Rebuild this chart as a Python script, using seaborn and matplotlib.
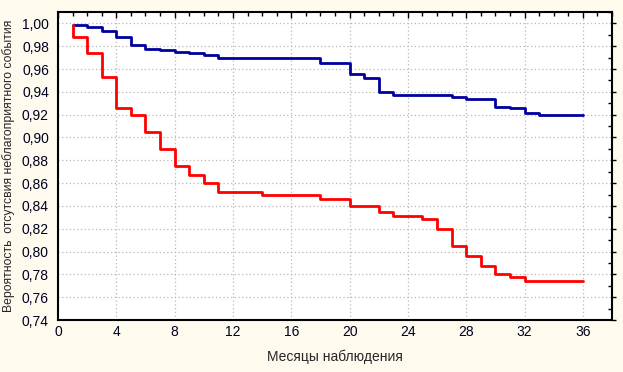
import matplotlib
matplotlib.use("Agg")
import matplotlib.pyplot as plt
from matplotlib.ticker import MultipleLocator, FuncFormatter
import seaborn as sns
import pandas as pd

# Kaplan-Meier type step curves
months_blue = [1, 2, 3, 4, 5, 6, 7, 8, 9, 10, 11, 17, 18, 20, 21, 22, 23,
               27, 28, 30, 31, 32, 33, 36]
surv_blue = [0.999, 0.997, 0.993, 0.988, 0.981, 0.978, 0.9765, 0.975, 0.9737,
             0.972, 0.970, 0.9695, 0.965, 0.956, 0.952, 0.940, 0.937, 0.9355,
             0.9335, 0.927, 0.9255, 0.9215, 0.9195, 0.9195]

months_red = [1, 1, 2, 3, 4, 5, 6, 7, 8, 9, 10, 11, 14, 18, 20, 22, 23, 25,
              26, 27, 28, 29, 30, 31, 32, 36]
surv_red = [0.999, 0.988, 0.9737, 0.953, 0.9255, 0.920, 0.905, 0.890, 0.875,
            0.8675, 0.8605, 0.852, 0.8495, 0.846, 0.840, 0.835, 0.831, 0.8285,
            0.820, 0.805, 0.796, 0.787, 0.7805, 0.778, 0.7745, 0.7745]

df = pd.concat([
    pd.DataFrame({"month": months_blue, "surv": surv_blue, "grp": "blue"}),
    pd.DataFrame({"month": months_red, "surv": surv_red, "grp": "red"}),
], ignore_index=True)

sns.set_style("white")
plt.rcParams["font.family"] = ["Liberation Sans", "DejaVu Sans"]

fig = plt.figure(figsize=(6.23, 3.72), dpi=100, facecolor="#fffaee")
ax = fig.add_axes([58 / 623, 52 / 372, 554 / 623, 308 / 372])
ax.set_facecolor("white")

sns.lineplot(data=df, x="month", y="surv", hue="grp",
             palette={"blue": "#0000a0", "red": "#ff0000"},
             estimator=None, sort=False, drawstyle="steps-post",
             linewidth=2, legend=False, ax=ax)

ax.set_xlim(0, 38)
ax.set_ylim(0.74, 1.01)
ax.set_xticks([0, 4, 8, 12, 16, 20, 24, 28, 32, 36])
ax.xaxis.set_minor_locator(MultipleLocator(1))
ax.yaxis.set_major_locator(MultipleLocator(0.02))
ax.yaxis.set_minor_locator(MultipleLocator(0.01))
ax.yaxis.set_major_formatter(FuncFormatter(lambda v, p: f"{v:.2f}".replace(".", ",")))

ax.grid(True, which="major", linestyle=(0, (1, 2)), color="#b8b8b8", linewidth=0.9)
ax.tick_params(which="both", direction="in", color="black", labelsize=10,
               top=True, right=True, labelcolor="#000020")
ax.tick_params(which="major", length=4, width=1)
ax.tick_params(which="minor", length=3, width=1)
ax.tick_params(axis="y", which="major", direction="out", length=3)
for s in ax.spines.values():
    s.set_color("black")
    s.set_linewidth(1.5)

ax.set_xlabel("Месяцы наблюдения", fontsize=10, labelpad=8)
ax.set_ylabel("Вероятность  отсутсвия неблагоприятного события", fontsize=8.8, labelpad=5)

fig.savefig("out.png", dpi=100, facecolor=fig.get_facecolor())
